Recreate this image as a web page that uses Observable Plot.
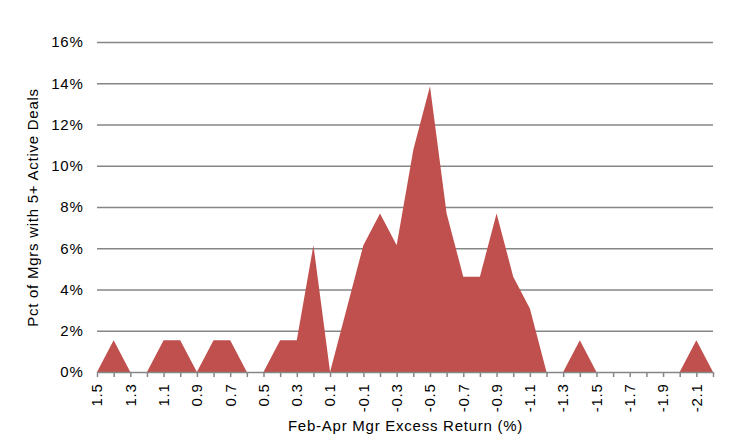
<!DOCTYPE html>
<html><head><meta charset="utf-8">
<script src="https://cdn.jsdelivr.net/npm/d3@7"></script>
<script src="https://cdn.jsdelivr.net/npm/@observablehq/plot@0.6"></script>
<style>body{margin:0;background:#fff;font-family:"Liberation Sans",Arial,sans-serif;}
svg text{letter-spacing:0.75px;}</style>
</head><body><div id="chart"></div>
<script>
const categories = ["1.5","1.4","1.3","1.2","1.1","1.0","0.9","0.8","0.7","0.6","0.5","0.4","0.3","0.2","0.1","0.0",
  "-0.1","-0.2","-0.3","-0.4","-0.5","-0.6","-0.7","-0.8","-0.9","-1.0","-1.1","-1.2","-1.3","-1.4","-1.5","-1.6",
  "-1.7","-1.8","-1.9","-2.0","-2.1","-2.2"];
const values = [0,1.54,0,0,1.54,1.54,0,1.54,1.54,0,0,1.54,1.54,6.15,0,3.08,
  6.15,7.69,6.15,10.77,13.85,7.69,4.62,4.62,7.69,4.62,3.08,0,0,1.54,0,0,
  0,0,0,0,1.54,0];
const xLabels = ["1.5","1.3","1.1","0.9","0.7","0.5","0.3","0.1","-0.1","-0.3","-0.5","-0.7","-0.9","-1.1","-1.3","-1.5","-1.7","-1.9","-2.1"];
const yTicks = [0,2,4,6,8,10,12,14,16];
const yTickLabels = ["0%","2%","4%","6%","8%","10%","12%","14%","16%"];

const data = categories.map((c, i) => ({x: parseFloat(c), y: values[i]}));
const xNums = categories.map(c => parseFloat(c));
const labelNums = xLabels.map(c => parseFloat(c));

const chart = Plot.plot({
  width: 753,
  height: 447,
  marginLeft: 97,
  marginRight: 40,
  marginTop: 42,
  marginBottom: 75,
  style: {fontFamily: '"Liberation Sans", Arial, sans-serif', fontSize: "15px", color: "#000", background: "#fff"},
  x: {domain: [xNums[0], xNums[xNums.length - 1]], range: [97, 713]},
  y: {domain: [0, 16]},
  marks: [
    Plot.ruleY(yTicks.slice(1), {stroke: "#868686", strokeWidth: 1.5}),
    Plot.areaY(data, {x: "x", y: "y", fill: "#C0504D"}),
    Plot.ruleY([0], {stroke: "#868686", strokeWidth: 1.5}),
    Plot.axisX({ticks: xNums, tickSize: 5, stroke: "#868686", strokeWidth: 1.5, tickFormat: () => "", label: null}),
    Plot.axisX({ticks: labelNums, tickSize: 0, tickRotate: -90, tickPadding: 11,
      tickFormat: d => xLabels[labelNums.indexOf(d)], fontSize: 15, fill: "#000",
      label: "Feb-Apr Mgr Excess Return (%)", labelAnchor: "center", labelArrow: "none", labelOffset: 58}),
    Plot.axisY({ticks: yTicks, tickSize: 0, tickPadding: 14,
      tickFormat: d => yTickLabels[yTicks.indexOf(d)], fontSize: 15, fill: "#000",
      label: "Pct of Mgrs with 5+ Active Deals", labelAnchor: "center", labelArrow: "none", labelOffset: 70})
  ]
});
document.getElementById("chart").appendChild(chart);
</script>
</body></html>
